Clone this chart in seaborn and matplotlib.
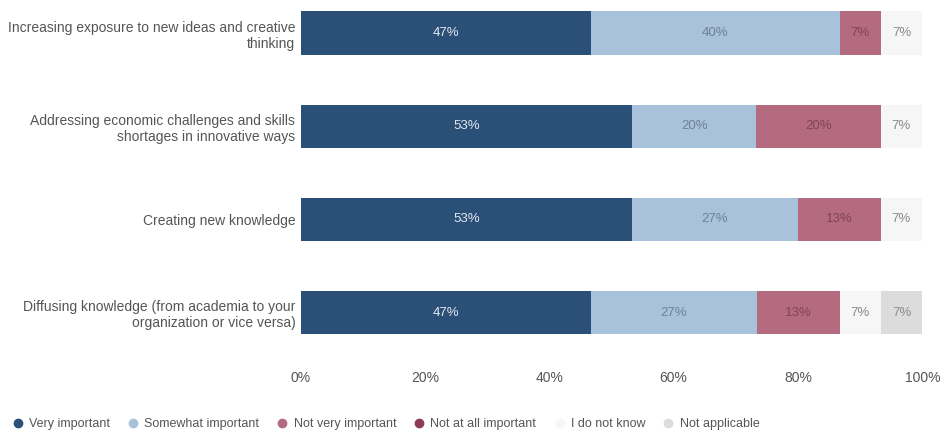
import matplotlib.pyplot as plt
import seaborn as sns
import numpy as np
from matplotlib.lines import Line2D

# --- Data ---
categories = [
    "Increasing exposure to new ideas and creative\nthinking",
    "Addressing economic challenges and skills\nshortages in innovative ways",
    "Creating new knowledge",
    "Diffusing knowledge (from academia to your\norganization or vice versa)",
]
responses = ["Very important", "Somewhat important", "Not very important",
             "Not at all important", "I do not know", "Not applicable"]
very_important = [46.7, 53.3, 53.3, 46.7]
somewhat_important = [40.0, 20.0, 26.7, 26.7]
not_very_important = [6.7, 20.0, 13.3, 13.3]
not_at_all_important = [0.0, 0.0, 0.0, 0.0]
do_not_know = [6.7, 6.7, 6.7, 6.7]
not_applicable = [0.0, 0.0, 0.0, 6.7]
x_ticks = [0, 20, 40, 60, 80, 100]

series = [very_important, somewhat_important, not_very_important,
          not_at_all_important, do_not_know, not_applicable]
colors = ["#2b5078", "#a9c2dc", "#b56b7f", "#8c3b58", "#f6f6f6", "#dcdcdc"]
label_colors = ["#e4e8ef", "#6f8094", "#7e4553", "#f0e0e6", "#8a8a8a", "#8a8a8a"]

sns.set_style("white")
plt.rcParams["font.family"] = ["Liberation Sans", "DejaVu Sans"]

fig = plt.figure(figsize=(9.43, 4.34), dpi=100)
ax = fig.add_axes([0.319, 0.164, 0.659, 0.836])

vals = np.array(series)
cum = np.cumsum(vals, axis=0)

# draw from the outermost cumulative layer inward
for i in range(len(series) - 1, -1, -1):
    sns.barplot(x=cum[i], y=categories, orient="h", color=colors[i],
                width=0.465, saturation=1, ax=ax, linewidth=0)

# segment labels
for i in range(len(series)):
    for j in range(len(categories)):
        v = vals[i, j]
        if v <= 0:
            continue
        xc = cum[i, j] - v / 2
        ax.text(xc, j, f"{v:.0f}%", ha="center", va="center",
                fontsize=9.5, color=label_colors[i])

ax.set_xlim(0, 100)
ax.set_ylim(3.54, -0.355)
ax.set_xticks(x_ticks)
ax.set_xticklabels([f"{t}%" for t in x_ticks])
ax.set_xlabel("")
ax.set_ylabel("")
ax.tick_params(axis="x", labelsize=10, colors="#555555", length=0, pad=6)
ax.tick_params(axis="y", labelsize=10, colors="#555555", length=0, pad=4)
for lbl in ax.get_yticklabels():
    lbl.set_horizontalalignment("right")
    lbl.set_multialignment("right")
for s in ax.spines.values():
    s.set_visible(False)

handles = [Line2D([0], [0], marker="o", linestyle="", markersize=6,
                  markerfacecolor=c, markeredgecolor=c) for c in colors]
fig.legend(handles, responses, loc="lower left", bbox_to_anchor=(0.0, -0.017),
           ncol=6, frameon=False, fontsize=9, handletextpad=0.4,
           columnspacing=1.35, labelcolor="#555555", handlelength=1.0)

fig.savefig("out.png", dpi=100)
